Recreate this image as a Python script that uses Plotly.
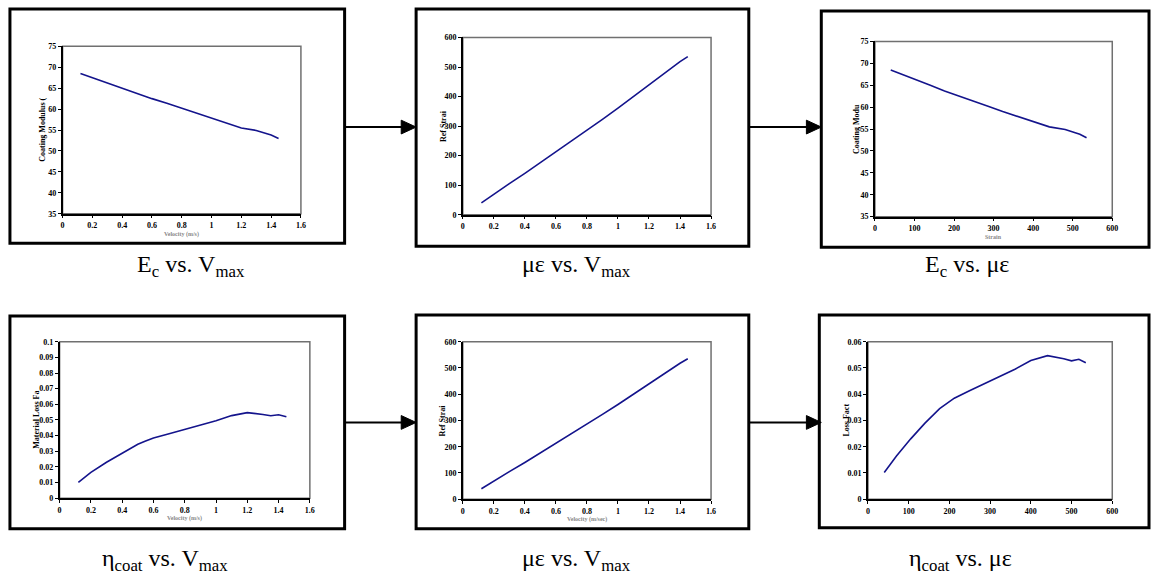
import plotly.graph_objects as go

W, H = 1156, 583

# Sweep data (shared by all six panels)
velocity = [0.12, 0.2, 0.3, 0.4, 0.5, 0.55, 0.6, 0.7, 0.8, 0.9, 1.0, 1.1, 1.2, 1.3, 1.35, 1.4, 1.45]
coating_modulus = [68.5, 67.5, 66.3, 65.0, 63.7, 63.1, 62.5, 61.4, 60.2, 59.0, 57.9, 56.7, 55.5, 54.9, 54.4, 53.8, 53.0]
ref_strain = [40, 70, 105, 140, 176, 194, 212, 248, 286, 323, 361, 400, 441, 481, 500, 518, 535]
loss_factor = [0.0102, 0.0165, 0.0230, 0.0290, 0.0345, 0.0365, 0.0385, 0.0412, 0.0440, 0.0467,
               0.0495, 0.0528, 0.0547, 0.0535, 0.0527, 0.0533, 0.0520]

captions = [
    "E<sub>c</sub> vs. V<sub>max</sub>",
    "\u03bc\u03b5 vs. V<sub>max</sub>",
    "E<sub>c</sub> vs. \u03bc\u03b5",
    "\u03b7<sub>coat</sub> vs. V<sub>max</sub>",
    "\u03bc\u03b5 vs. V<sub>max</sub>",
    "\u03b7<sub>coat</sub> vs. \u03bc\u03b5",
]
y_titles = ["Coating Modulus (", "Ref Strai", "Coating Modu", "Material Loss Fa", "Ref Strai", "Loss Fact"]
x_titles = ["Velocity (m/s)", "", "Strain", "Velocity (m/s)", "Velocity (m/sec)", ""]

panels = [
    # x data, y data, x range, x dtick, y range, y dtick
    (velocity, coating_modulus, [0, 1.6], 0.2, [35, 75], 5),
    (velocity, ref_strain, [0, 1.6], 0.2, [0, 600], 100),
    (ref_strain, coating_modulus, [0, 600], 100, [35, 75], 5),
    (velocity, loss_factor, [0, 1.6], 0.2, [0, 0.1], 0.01),
    (velocity, ref_strain, [0, 1.6], 0.2, [0, 600], 100),
    (ref_strain, loss_factor, [0, 600], 100, [0, 0.06], 0.01),
]

# layout geometry in pixels: plot area (x0, x1, top, bottom), frame box, caption centre
plot_px = [(61, 301, 43, 213), (464, 714, 34, 214), (879, 1118, 38, 216),
           (58, 310, 343, 502), (464, 714, 343, 503), (872, 1118, 343, 503)]
frame_px = [(8, 345, 5, 243), (417, 752, 5, 246), (825, 1155, 7, 247),
            (8, 345, 317, 533), (417, 752, 316, 533), (823, 1155, 316, 532)]
caption_px = [(190, 266), (578, 266), (972, 266), (164, 565), (578, 565), (965, 565)]
ytitle_x = [40, 444, 860, 35, 444, 850]


def fx(p):
    return p / W


def fy(p):
    return 1 - p / H


fig = go.Figure()
shapes = []
annotations = []
tickfont = dict(family="Liberation Serif", size=8, color="black", weight="bold")

for i, (xs, ys, xr, xd, yr, yd) in enumerate(panels):
    n = "" if i == 0 else str(i + 1)
    fig.add_trace(go.Scatter(x=xs, y=ys, mode="lines", xaxis="x" + n, yaxis="y" + n,
                             line=dict(color="#14148c", width=1.6), showlegend=False,
                             hoverinfo="skip"))
    x0, x1, top, bot = plot_px[i]
    fig.update_layout(**{
        "xaxis" + n: dict(domain=[fx(x0), fx(x1)], range=xr, dtick=xd, tick0=0,
                          anchor="y" + n, showgrid=False, zeroline=False, showline=True,
                          linecolor="black", linewidth=1.5, ticks="outside", ticklen=3,
                          tickcolor="black", tickfont=tickfont, fixedrange=True),
        "yaxis" + n: dict(domain=[fy(bot), fy(top)], range=yr, dtick=yd, tick0=0,
                          anchor="x" + n, showgrid=False, zeroline=False, showline=True,
                          linecolor="black", linewidth=1.5, ticks="outside", ticklen=3,
                          tickcolor="black", tickfont=tickfont, fixedrange=True),
    })
    # plot-area border
    shapes.append(dict(type="rect", xref="x" + n + " domain", yref="y" + n + " domain",
                       x0=0, x1=1, y0=0, y1=1, line=dict(color="#707070", width=1.5),
                       layer="below"))
    # panel frame
    a0, a1, t0, b0 = frame_px[i]
    shapes.append(dict(type="rect", xref="paper", yref="paper", x0=fx(a0), x1=fx(a1),
                       y0=fy(b0), y1=fy(t0), line=dict(color="black", width=3)))
    # axis titles
    annotations.append(dict(text=y_titles[i], xref="paper", yref="paper",
                            x=fx(ytitle_x[i]), y=fy((top + bot) / 2), showarrow=False,
                            xanchor="center", yanchor="middle", textangle=-90,
                            font=dict(family="Liberation Serif", size=8,
                                      color="black", weight="bold")))
    if x_titles[i]:
        annotations.append(dict(text=x_titles[i], xref="paper", yref="paper",
                                x=fx((x0 + x1) / 2), y=fy(bot + 21), showarrow=False,
                                xanchor="center", yanchor="middle",
                                font=dict(family="Liberation Serif", size=6,
                                          color="#888888", weight="bold")))
    # caption under the panel
    cx, cy = caption_px[i]
    annotations.append(dict(text=captions[i], xref="paper", yref="paper", x=fx(cx), y=fy(cy),
                            xanchor="center", yanchor="middle", showarrow=False,
                            font=dict(family="Liberation Serif", size=24, color="black")))

# arrows between panels
for (ax0, ax1, ay) in [(345, 417, 125), (752, 825, 125), (345, 417, 425), (752, 825, 425)]:
    head = ax1 - 15
    shapes.append(dict(type="line", xref="paper", yref="paper", x0=fx(ax0), x1=fx(head + 2),
                       y0=fy(ay), y1=fy(ay), line=dict(color="black", width=2)))
    shapes.append(dict(type="path", xref="paper", yref="paper",
                       path=f"M {fx(head)} {fy(ay - 7)} L {fx(ax1)} {fy(ay)} L {fx(head)} {fy(ay + 7)} Z",
                       fillcolor="black", line=dict(color="black", width=1)))

fig.update_layout(width=W, height=H, autosize=False, margin=dict(l=0, r=0, t=0, b=0),
                  paper_bgcolor="white", plot_bgcolor="white",
                  shapes=shapes, annotations=annotations)

fig.write_html("out.html", config={"displayModeBar": False})
